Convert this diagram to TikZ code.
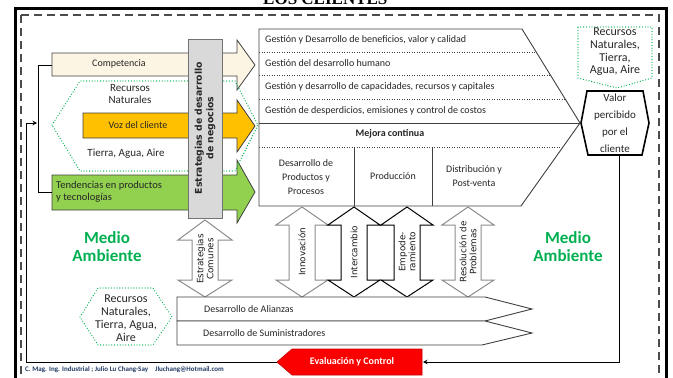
\documentclass[tikz,border=0pt]{standalone}
\usepackage{fontspec}
\setmainfont{Carlito}
\newfontfamily\titlefont{Liberation Serif}
\newfontfamily\wideface{DejaVu Sans}
\usetikzlibrary{arrows.meta,positioning}

\definecolor{cream}{RGB}{253,245,228}
\definecolor{gold}{RGB}{255,192,0}
\definecolor{lgreen}{RGB}{146,208,80}
\definecolor{envgreen}{RGB}{0,176,80}
\definecolor{bargray}{RGB}{217,217,217}
\definecolor{linegray}{RGB}{64,64,64}
\definecolor{softgray}{RGB}{140,140,140}
\definecolor{footblue}{RGB}{31,56,100}
\definecolor{evalred}{RGB}{250,0,0}

\tikzset{
  blockarrow/.style={draw=linegray, line width=0.8pt},
  envline/.style={draw=envgreen, line width=1.3pt, line cap=round, dash pattern=on 0pt off 2.8pt},
  rowline/.style={draw=linegray, line width=0.9pt, dash pattern=on 1pt off 1.5pt},
  dblblack/.style={draw=black, fill=white, line width=1pt},
  dblgray/.style={draw=softgray, fill=white, line width=1pt},
  rowtext/.style={anchor=west, inner sep=0pt, text=black!85, font=\fontsize{10}{12}\selectfont},
  celltext/.style={align=center, inner sep=0pt, text=black!85, font=\fontsize{10}{14}\selectfont},
  arrowtext/.style={inner sep=0pt, text=black!85, font=\fontsize{10}{11}\selectfont},
  linktext/.style={inner sep=0pt, rotate=90, align=center, text=black!90, font=\wideface\fontsize{8.8}{10}\selectfont},
  envtext/.style={align=center, text=envgreen, font=\fontsize{17}{18}\selectfont\bfseries},
  restext/.style={align=center, inner sep=0pt, text=black!85},
  feedback/.style={line width=0.9pt, -{Stealth[length=4.5pt,width=4.5pt]}},
}

\begin{document}
\begin{tikzpicture}[x=1pt,y=-1pt]
\useasboundingbox (0,0) rectangle (673,378);

% title, cut by the top of the page
\node[anchor=base west, inner sep=0pt, font=\titlefont\fontsize{17}{17}\selectfont\bfseries] (title) at (263,4) {LOS CLIENTES};

% frames
\draw[line width=3pt] (15,8) rectangle (666,395);
\draw[line width=1.5pt, black!70, dash pattern=on 8pt off 5pt] (21,15) rectangle (659,395);

% left block arrows
\filldraw[blockarrow, fill=cream] (52,53) -- (237,53) -- (237,40) -- (255,65) -- (237,90) -- (237,76) -- (52,76) -- cycle;
\node[arrowtext] (comp) at (119,64) {Competencia};
\filldraw[blockarrow, fill=gold] (83,113) -- (237,113) -- (237,100) -- (255,126) -- (237,152) -- (237,138) -- (83,138) -- cycle;
\node[arrowtext] (voz) at (138,125) {Voz del cliente};
\filldraw[blockarrow, fill=lgreen] (52,175) -- (237,175) -- (237,160) -- (255,192) -- (237,223) -- (237,210) -- (52,210) -- cycle;
\node[arrowtext, anchor=west, align=left, font=\fontsize{10.5}{12}\selectfont] (tend) at (56,192) {Tendencias en productos\\y tecnologías};

% natural resources around the customer voice
\draw[envline] (52,125) -- (80,81) -- (235,81) -- (258,125) -- (235,171) -- (80,171) -- cycle;
\node[restext, font=\fontsize{11}{12}\selectfont] (recT) at (130,94) {Recursos\\Naturales};
\node[restext, font=\fontsize{11}{12}\selectfont] (tierraT) at (126,154) {Tierra, Agua, Aire};

% business strategy bar
\filldraw[draw=black!55, fill=bargray, line width=0.8pt] (188,39) rectangle (222,218);
\node[restext, rotate=90, font=\wideface\fontsize{9.3}{11.5}\selectfont\bfseries] (strat) at (205,128) {Estrategias de desarrollo\\de negocios};

% chain of value
\draw[linegray, line width=0.9pt, fill=white] (259,29) -- (522,29) -- (580,123) -- (521,206) -- (259,206) -- cycle;
\draw[linegray, line width=0.9pt] (259,123) -- (580,123);
\draw[rowline] (259,52) -- (536,52);
\draw[rowline] (259,75) -- (550,75);
\draw[rowline] (259,99) -- (565,99);
\draw[rowline] (259,147) -- (563,147);
\draw[linegray, line width=0.9pt] (354,147) -- (354,206);
\draw[linegray, line width=0.9pt] (432,147) -- (432,206);
\node[rowtext] (row1) at (265,40) {Gestión y Desarrollo de beneficios, valor y calidad};
\node[rowtext] (row2) at (265,63) {Gestión del desarrollo humano};
\node[rowtext] (row3) at (265,87) {Gestión y desarrollo de capacidades, recursos y capitales};
\node[rowtext] (row4) at (265,111) {Gestión de desperdicios, emisiones y control de costos};
\node[celltext, font=\fontsize{10}{12}\selectfont\bfseries] (mejora) at (390,134) {Mejora continua};
\node[celltext] (prod) at (306,177) {Desarrollo de\\Productos y\\Procesos};
\node[celltext] (produccion) at (393,176) {Producción};
\node[celltext] (distr) at (474,176) {Distribución y\\Post-venta};

% perceived value
\draw[line width=1.6pt] (587,91) -- (643,91) -- (649,123) -- (642,155) -- (588,155) -- (581,123) -- cycle;
\node[restext, minimum height=64pt, font=\fontsize{11}{17}\selectfont] (valor) at (615,123) {Valor\\percibido\\por el\\cliente};
\draw[envline] (578,27) -- (652,27) -- (652,78) -- (617,88) -- (578,78) -- cycle;
\node[restext, font=\fontsize{12}{12.7}\selectfont] (recR) at (615,52) {Recursos\\Naturales,\\Tierra,\\Agua, Aire};

% double arrows
\filldraw[dblgray] (205,220) -- (232,240) -- (218,240) -- (218,280) -- (232,280) -- (205,297) -- (178,280) -- (192,280) -- (192,240) -- (178,240) -- cycle;
\node[linktext] (comunes) at (205,259) {Estrategias\\Comunes};
\foreach \cx/\lbl/\sty [count=\i] in {302/Innovación/dblgray, 354/Intercambio/dblblack, 407/{Empode-\\ramiento}/dblblack, 468/{Resolución de\\Problemas}/dblgray}{
  \filldraw[\sty] (\cx,207) -- (\cx+26,225) -- (\cx+13,225) -- (\cx+13,280) -- (\cx+26,280) -- (\cx,297)
    -- (\cx-26,280) -- (\cx-13,280) -- (\cx-13,225) -- (\cx-26,225) -- cycle;
  \node[linktext] (link\i) at (\cx,252) {\lbl};
}

% alliances and suppliers
\draw[linegray, line width=0.9pt, fill=white] (177,297) -- (485,297) -- (532,309) -- (485,321) -- (177,321) -- cycle;
\draw[linegray, line width=0.9pt, fill=white] (177,321) -- (485,321) -- (532,333) -- (482,345) -- (177,345) -- cycle;
\node[rowtext, font=\fontsize{10}{11}\selectfont] (alianzas) at (204,309) {Desarrollo de Alianzas};
\node[rowtext, font=\fontsize{10}{11}\selectfont] (suministro) at (203,333) {Desarrollo de Suministradores};

% environment
\node[envtext] (envL) at (107,247) {Medio\\Ambiente};
\node[envtext] (envR) at (568,247) {Medio\\Ambiente};
\draw[envline] (80,317) -- (98,288) -- (153,288) -- (172,317) -- (153,345) -- (98,345) -- cycle;
\node[restext, font=\fontsize{12}{13}\selectfont] (recL) at (126,318) {Recursos\\Naturales,\\Tierra, Agua,\\Aire};

% evaluation and feedback
\filldraw[fill=evalred, draw=evalred!80!black, line width=0.6pt] (277,362) -- (292,349) -- (422,349) -- (422,375) -- (292,375) -- cycle;
\node[inner sep=0pt, text=white, font=\fontsize{10}{12}\selectfont\bfseries] (eval) at (352,362) {Evaluación y Control};
\coordinate (evalL) at (277,362);
\coordinate (evalR) at (423,362);
\coordinate (fbin) at (37,123);
\coordinate (compL) at (52,65);
\coordinate (tendL) at (52,192);
\draw[line width=0.9pt] (compL) -- ++(-14,0) |- (tendL);
\draw[feedback] ([xshift=4pt]valor.south) |- (evalR);
\draw[feedback] (evalL) -| ([xshift=-11pt]fbin) -- (fbin);

\node[anchor=west, inner sep=0pt, text=footblue, font=\fontsize{7}{8}\selectfont\bfseries] (foot) at (25,370) {C. Mag. Ing. Industrial ; Julio Lu Chang-Say\quad Jluchang@Hotmail.com};
\end{tikzpicture}
\end{document}
